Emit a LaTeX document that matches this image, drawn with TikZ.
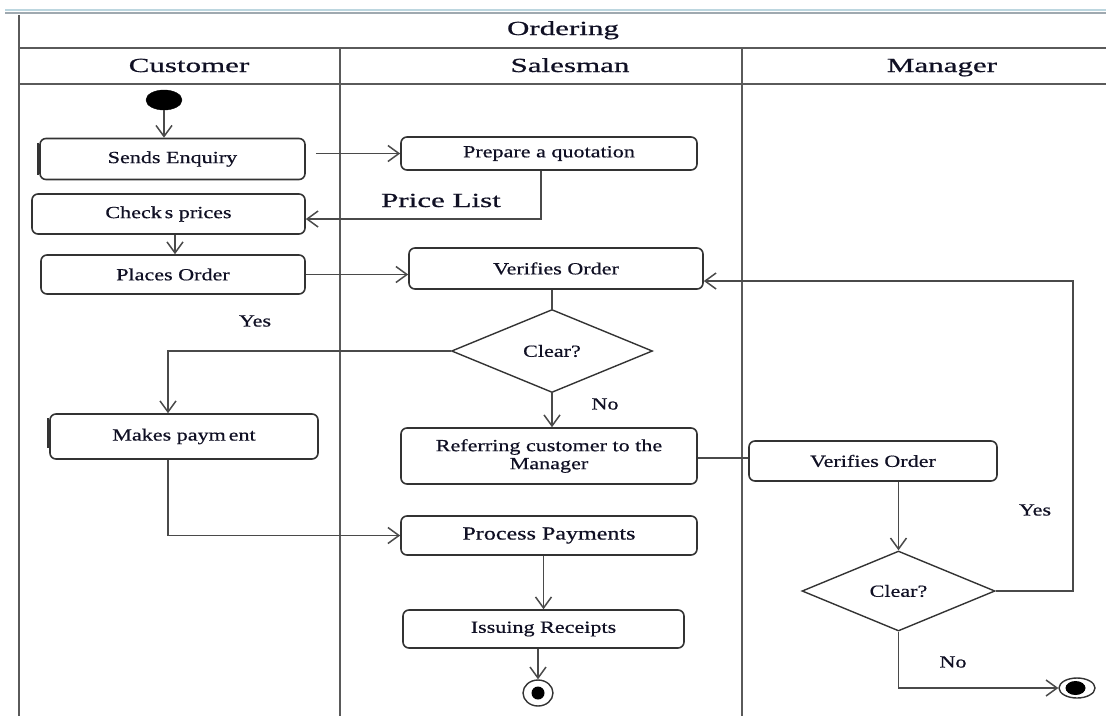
\documentclass[tikz,border=0pt]{standalone}
\usepackage{fontspec}
\setmainfont{Liberation Serif}
\newfontfamily\boxfont[FakeStretch=1.3,FakeBold=0.6]{Liberation Serif}
\newfontfamily\headfont[FakeStretch=1.55,FakeBold=0.8]{Liberation Serif}
\usetikzlibrary{shapes.geometric,arrows.meta,calc}

\definecolor{ink}{HTML}{101024}
\definecolor{boxline}{HTML}{333333}
\definecolor{linec}{HTML}{4A4A4A}
\definecolor{lanec}{HTML}{5A5A5A}
\definecolor{barlight}{HTML}{BCD6DF}
\definecolor{bardark}{HTML}{9FA9B0}

\tikzset{
  act/.style={draw=boxline, line width=1.6pt, rounded corners=6pt, fill=white,
    inner sep=0pt, align=center, text=ink,
    font=\boxfont\fontsize{17}{18}\selectfont},
  bigact/.style={act, font=\boxfont\fontsize{18.5}{21}\selectfont},
  decision/.style={diamond, draw=boxline, line width=1.4pt, inner sep=0pt,
    text=ink, font=\boxfont\fontsize{17}{19}\selectfont},
  lbl/.style={text=ink, inner sep=0pt, font=\boxfont\fontsize{17}{19}\selectfont},
  head/.style={text=ink, inner sep=0pt, anchor=base, font=\headfont\fontsize{20}{22}\selectfont},
  lane/.style={draw=lanec, line width=2.4pt},
  flow/.style={draw=linec, line width=1.6pt,
    -{Straight Barb[length=11pt,width=16pt,line width=1.5pt]}},
  plain/.style={draw=linec, line width=1.6pt},
  startdot/.style={ellipse, fill=black, draw=black, inner sep=0pt,
    minimum width=36pt, minimum height=20pt},
  endring/.style={ellipse, draw=boxline, line width=1.4pt, fill=white, inner sep=0pt}
}

\begin{document}
\begin{tikzpicture}[x=1pt,y=-1pt]
\useasboundingbox (0,0) rectangle (1106,716);

% window bar along the top
\draw[barlight, line width=2.5pt] (5,10) -- (1106,10);
\draw[bardark, line width=2.5pt] (5,13) -- (1106,13);

% swimlane frame
\coordinate (tl) at (19,15);
\coordinate (bl) at (19,716);
\draw[lane] (tl) -- (bl);
\draw[lane] (19,48) -- (1106,48);
\draw[lane] (19,84) -- (1106,84);
\draw[lane] (340,48) -- (340,716);
\draw[lane] (742,48) -- (742,716);

% lane titles
\node[head] (title) at (563,35) {Ordering};
\node[head] (hcust) at (189,72) {Customer};
\node[head] (hsales) at (570,72) {Salesman};
\node[head] (hman) at (942,72) {Manager};

% customer lane
\node[startdot] (start) at (164,100) {};
\node[act, minimum width=265pt, minimum height=41pt] (se) at (172.5,159) {Sends Enquiry};
\node[act, minimum width=273pt, minimum height=40pt] (checks) at (168.5,214) {Check\,s prices};
\node[act, minimum width=264pt, minimum height=39pt] (places) at (173,274.5) {Places Order};
\node[act, minimum width=268pt, minimum height=45pt] (mp) at (184,436.5) {Makes paym\,ent};

% salesman lane
\node[act, minimum width=296pt, minimum height=33pt] (prep) at (549,153.5) {Prepare a quotation};
\node[act, minimum width=294pt, minimum height=41pt] (vo1) at (556,268.5) {Verifies Order};
\node[decision, minimum width=201pt, minimum height=83pt] (d1) at (552,351) {Clear?};
\node[act, minimum width=296pt, minimum height=56pt] (ref) at (549,456) {Referring customer to the\\Manager};
\node[bigact, minimum width=296pt, minimum height=39pt] (pp) at (549,535.5) {Process Payments};
\node[act, minimum width=281pt, minimum height=38pt] (ir) at (543.5,629) {Issuing Receipts};
\node[endring, minimum width=30pt, minimum height=26pt] (end1) at (538,693) {};
\fill[black] (end1.center) ellipse (6.5pt and 6.5pt);

% manager lane
\node[act, minimum width=248pt, minimum height=40pt] (vo2) at (873,461) {Verifies Order};
\node[decision, minimum width=193pt, minimum height=80pt] (d2) at (898.5,591) {Clear?};
\node[endring, minimum width=36pt, minimum height=20pt] (end2) at (1077,688) {};
\fill[black] ([xshift=-1.5pt]end2.center) ellipse (10pt and 7pt);
\coordinate (yesturn) at (1073,281);

% doubled left edges
\draw[boxline, line width=1.6pt] ([xshift=-1.5pt,yshift=-5pt]se.north west) -- ([xshift=-1.5pt,yshift=5pt]se.south west);
\draw[boxline, line width=1.6pt] ([xshift=-1.5pt,yshift=-5pt]mp.north west) -- ([xshift=-1.5pt,yshift=12pt]mp.south west);

% labels
\node[head] (plist) at (441,207) {Price List};
\node[lbl] (yes1) at (255,321) {Yes};
\node[lbl] (no1) at (605,404) {No};
\node[lbl] (yes2) at (1035,510) {Yes};
\node[lbl] (no2) at (953,662) {No};

% connectors
\draw[flow] (start.south) -- (start.south |- se.north);
\draw[flow] ([xshift=10pt]se.east |- prep.west) -- (prep.west);
\draw[flow] ([xshift=-8pt]prep.south) |- ([yshift=-5pt]checks.east);
\draw[flow] ([xshift=6.5pt]checks.south) -- ([xshift=6.5pt]checks.south |- places.north);
\draw[flow] (places.east) -- (places.east -| vo1.west);
\draw[plain] (d1.north |- vo1.south) -- (d1.north);
\draw[flow] (d1.west) -| ([xshift=-16pt]mp.north);
\draw[flow] ([xshift=-16pt]mp.south) |- (pp.west);
\draw[flow] (d1.south) -- (d1.south |- ref.north);
\draw[plain] ([yshift=-2pt]ref.east) -- ([yshift=-2pt]ref.east -| vo2.west);
\draw[flow] (d2.north |- vo2.south) -- (d2.north);
\draw[flow] (d2.east) -| (yesturn) -- (yesturn -| vo1.east);
\draw[flow] (d2.south) |- (end2.west);
\draw[flow] (ir.north |- pp.south) -- (ir.north);
\draw[flow] (end1.north |- ir.south) -- (end1.north);
\end{tikzpicture}
\end{document}
